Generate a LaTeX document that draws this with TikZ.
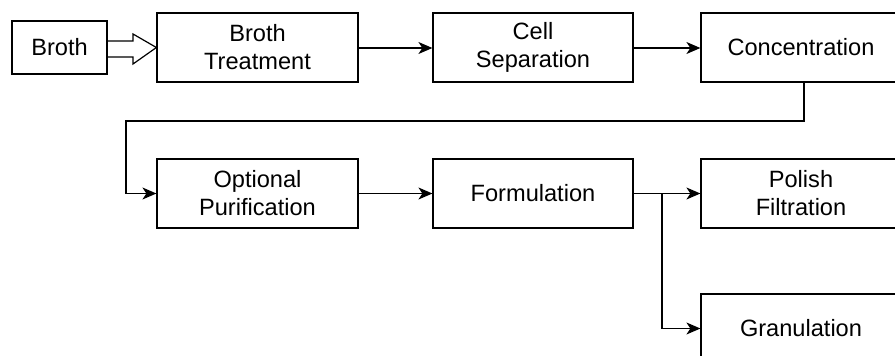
\documentclass[tikz,border=0pt]{standalone}
\usepackage{fontspec}
\setmainfont{Liberation Sans}
\usetikzlibrary{arrows.meta}
\begin{document}
\begin{tikzpicture}[x=1pt,y=-1pt,
  every node/.style={font=\fontsize{23.6}{28}\selectfont, align=center, inner sep=0pt},
  proc/.style={draw, line width=1.2pt, minimum width=200pt, minimum height=69pt},
  conn/.style={line width=1.2pt, -{Stealth[length=14pt,width=12pt,inset=4pt]}},
  wire/.style={line width=1.2pt}]
\clip (0,0) rectangle (895,356);
\useasboundingbox (0,0) rectangle (895,356);
\node[draw, line width=1.2pt, minimum width=95pt, minimum height=53pt] (broth) at (59.5,47.5) {Broth};
\node[proc, minimum width=201pt] (treat) at (257.5,47.5) {Broth\\Treatment};
\node[proc] (cell) at (533,47.5) {Cell\\Separation};
\node[proc] (conc) at (801,47.5) {Concentration};
\node[proc, minimum width=201pt] (opt) at (257.5,193.5) {Optional\\Purification};
\node[proc] (form) at (533,193.5) {Formulation};
\node[proc] (pol) at (801,193.5) {Polish\\Filtration};
\node[proc] (gran) at (801,328.5) {Granulation};
% hollow block arrow
\draw[line width=1.2pt, line join=miter]
  (broth.east |- 0,41) -- (133,41) -- (133,34) -- (treat.west) -- (133,64) -- (133,57) -- (broth.east |- 0,57);
\draw[conn] (treat.east |- 0,48) -- (cell.west |- 0,48);
\draw[conn] (cell.east |- 0,48) -- (conc.west |- 0,48);
\coordinate (loopx) at (804,121);
\draw[conn] (conc.south -| loopx) -- (loopx) -- (126,121) |- (opt.west);
\draw[conn] (opt.east) -- (form.west);
\draw[conn] (form.east) -- (pol.west);
\coordinate (br) at (662,193.5);
\draw[conn] (br) |- (gran.west);
\end{tikzpicture}
\end{document}
